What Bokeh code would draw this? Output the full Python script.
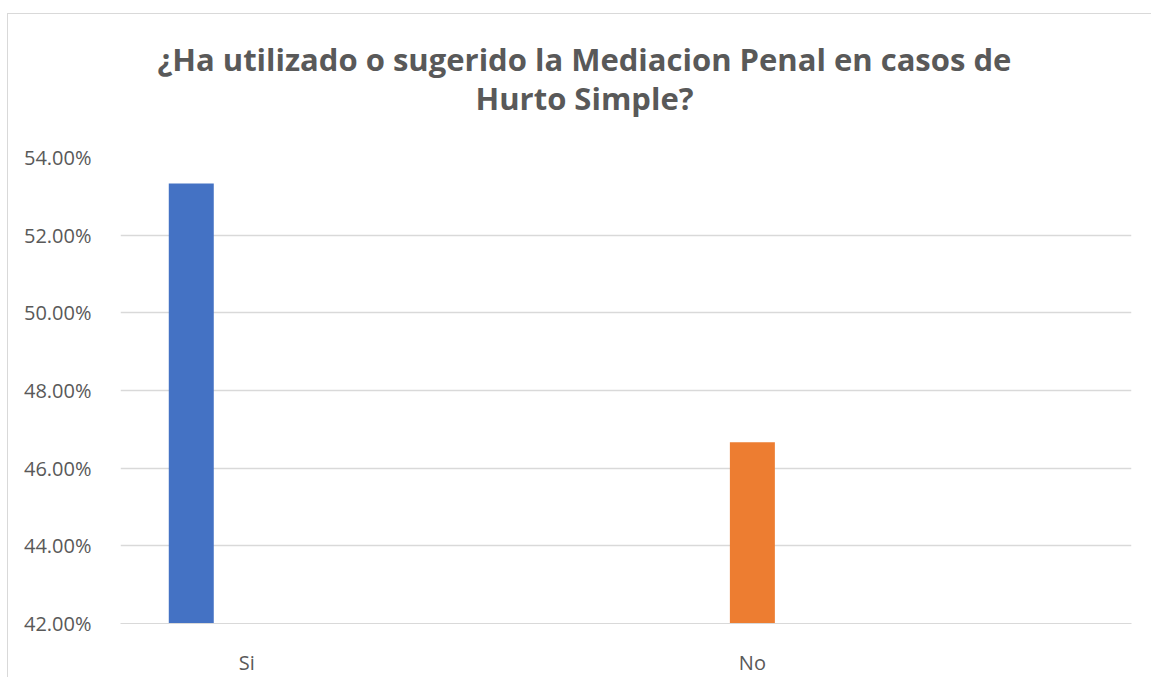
from bokeh.plotting import figure
from bokeh.models import Title, FixedTicker, NumeralTickFormatter, ColumnDataSource, Range1d
from bokeh.embed import file_html
from bokeh.resources import INLINE

# Data
categories = ["Si", "No"]
values = [0.5333, 0.4667]
colors = ["#4472C4", "#ED7D31"]
y_ticks = [0.42, 0.44, 0.46, 0.48, 0.50, 0.52, 0.54]
title_lines = ["¿Ha utilizado o sugerido la Mediacion Penal en casos de", "Hurto Simple?"]

# category slots (Excel-like layout: 4 slots, labels on slots 0 and 2)
slot_centers = [2 * i for i in range(len(categories))]
bar_offsets = [-0.22, 0.0]
xs = [c + o for c, o in zip(slot_centers, bar_offsets)]

src = ColumnDataSource(dict(x=xs, top=values, color=colors, cat=categories))

p = figure(width=1144, height=664, output_backend="svg", toolbar_location=None,
           x_range=Range1d(-0.5, 3.5), y_range=Range1d(y_ticks[0], y_ticks[-1]),
           min_border_left=112, min_border_right=21, min_border_top=143, min_border_bottom=55)
p.styles = {"margin-top": "13px", "margin-left": "7px",
            "border-top": "1px solid #d9d9d9", "border-left": "1px solid #d9d9d9"}
p.outline_line_color = None
p.background_fill_color = "white"
p.border_fill_color = "white"

p.vbar(x="x", top="top", bottom=y_ticks[0], width=0.178, color="color", source=src, line_color=None)

# Title lines (first added sits closest to the plot)
title_offsets = [37, 355]
title_standoffs = [-89, 78]
for line, off, so in reversed(list(zip(title_lines, title_offsets, title_standoffs))):
    p.add_layout(Title(text=line, align="left", offset=off, standoff=so,
                       text_font="Open Sans", text_font_size="31px",
                       text_font_style="bold", text_color="#595959"), "above")

# Axes
p.yaxis.ticker = FixedTicker(ticks=y_ticks)
p.yaxis.formatter = NumeralTickFormatter(format="0.00%")
p.yaxis.axis_line_color = None
p.yaxis.major_tick_line_color = None
p.yaxis.minor_tick_line_color = None
p.yaxis.major_label_standoff = 23
p.yaxis.major_label_text_font = "Open Sans"
p.yaxis.major_label_text_font_size = "20px"
p.yaxis.major_label_text_color = "#595959"

p.xaxis.ticker = FixedTicker(ticks=slot_centers)
p.xaxis.major_label_overrides = {c: cat for c, cat in zip(slot_centers, categories)}
p.xaxis.axis_line_color = "#d9d9d9"
p.xaxis.major_tick_line_color = None
p.xaxis.minor_tick_line_color = None
p.xaxis.major_label_standoff = 19
p.xaxis.major_label_text_font = "Open Sans"
p.xaxis.major_label_text_font_size = "20px"
p.xaxis.major_label_text_color = "#595959"

p.xgrid.grid_line_color = None
p.ygrid.grid_line_color = "#d9d9d9"
p.ygrid.grid_line_width = 1.5

open("out.html", "w").write(file_html(p, INLINE))
